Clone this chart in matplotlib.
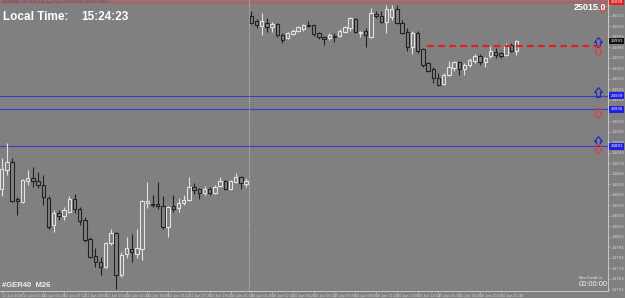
import matplotlib
matplotlib.use('Agg')
import matplotlib.pyplot as plt
from matplotlib.patches import Rectangle
from matplotlib.path import Path
import matplotlib.transforms as mtransforms

# ---------------- data ----------------
opens = [24850, 24868, 24876, 24841, 24838, 24858, 24861, 24858, 24854, 24842,
         24816, 24828, 24825, 24829, 24841, 24831, 24821, 24803, 24787, 24781,
         24776, 24799, 24809, 24769, 24789, 24793, 24789, 24793, 24837, 24836,
         24836, 24834, 24814, 24834, 24832, 24837, 24840, 24852, 24850, 24847,
         24850, 24847, 24853, 24858, 24850, 24857, 24862, 24855,
         25015, 25010, 25005, 25008, 25004, 25007, 24997, 24994, 24998, 25001,
         25002, 25006, 25006, 24999, 24995, 24994, 24996, 24996, 25000, 25003,
         25012, 24999, 25001, 24995, 25017, 25015, 25009, 25014, 25021, 25008,
         25000, 24985, 24999, 24983, 24970, 24964, 24956, 24950, 24959, 24965,
         24971, 24964, 24968, 24972, 24977, 24971, 24977, 24981, 24980, 24978,
         24987, 24982]
closes = [24869, 24876, 24839, 24839, 24859, 24861, 24858, 24854, 24843, 24814,
          24828, 24825, 24830, 24841, 24831, 24820, 24802, 24786, 24781, 24776,
          24799, 24809, 24769, 24788, 24794, 24791, 24794, 24839, 24839, 24835,
          24834, 24814, 24833, 24831, 24837, 24840, 24852, 24849, 24847, 24850,
          24847, 24852, 24858, 24850, 24858, 24862, 24856, 24858,
          25008, 25006, 25010, 25004, 25007, 24997, 24992, 24999, 25001, 25004,
          25006, 25005, 24998, 24995, 24993, 24997, 24995, 25001, 25004, 25013,
          25000, 25000, 24997, 25018, 25015, 25009, 25021, 25021, 25008, 24999,
          24985, 24999, 24982, 24968, 24963, 24956, 24949, 24959, 24966, 24971,
          24964, 24968, 24973, 24977, 24971, 24975, 24982, 24978, 24977, 24986,
          24982, 24991]
highs = [24880, 24894, 24880, 24843, 24860, 24868, 24871, 24867, 24864, 24844,
         24830, 24830, 24833, 24844, 24846, 24833, 24824, 24805, 24794, 24786,
         24800, 24812, 24810, 24791, 24805, 24808, 24812, 24840, 24857, 24845,
         24857, 24844, 24834, 24845, 24842, 24845, 24862, 24856, 24851, 24853,
         24852, 24854, 24862, 24859, 24859, 24866, 24863, 24861,
         25020, 25012, 25018, 25013, 25009, 25008, 24999, 25000, 25002, 25005,
         25007, 25010, 25007, 25000, 24996, 24999, 24999, 25002, 25005, 25014,
         25013, 25001, 25003, 25022, 25020, 25020, 25025, 25025, 25025, 25011,
         25003, 25001, 25001, 24984, 24971, 24966, 24961, 24961, 24972, 24972,
         24972, 24970, 24975, 24979, 24979, 24976, 24986, 24984, 24981, 24989,
         24989, 24992]
lows = [24844, 24864, 24838, 24826, 24837, 24854, 24852, 24851, 24835, 24812,
        24810, 24821, 24821, 24828, 24828, 24816, 24800, 24785, 24776, 24769,
        24775, 24797, 24755, 24767, 24785, 24781, 24785, 24783, 24832, 24833,
        24831, 24812, 24805, 24829, 24829, 24835, 24839, 24846, 24841, 24845,
        24845, 24846, 24852, 24849, 24849, 24856, 24850, 24852,
        25007, 25003, 24997, 25000, 25000, 24995, 24989, 24993, 24997, 25000,
        25001, 25004, 24996, 24993, 24987, 24992, 24990, 24995, 24999, 25001,
        24999, 24995, 24985, 24994, 25013, 25008, 24999, 25011, 25007, 24998,
        24982, 24979, 24980, 24966, 24962, 24951, 24948, 24949, 24958, 24963,
        24959, 24959, 24966, 24970, 24968, 24966, 24975, 24975, 24975, 24977,
        24981, 24978]

time_labels = ['11 Jun 2026', '11 Jun 03:44', '11 Jun 05:28', '11 Jun 07:12',
               '11 Jun 08:56', '11 Jun 10:40', '11 Jun 12:24', '11 Jun 14:08',
               '11 Jun 15:52', '11 Jun 17:36', '11 Jun 19:20', '11 Jun 21:04',
               '15 Jun 01:00', '15 Jun 02:44', '15 Jun 04:28', '15 Jun 06:12',
               '15 Jun 07:56', '15 Jun 09:40', '15 Jun 11:24', '15 Jun 13:08',
               '15 Jun 14:52', '15 Jun 16:36', '15 Jun 18:20', '15 Jun 20:04',
               '15 Jun 21:48']
price_ticks = [24755, 24765, 24775, 24785, 24795, 24805, 24815, 24825, 24835,
               24845, 24855, 24865, 24875, 24885, 24895, 24905, 24915, 24925,
               24935, 24945, 24955, 24965, 24975, 24985, 24995, 25005, 25015, 25025]

top_level = 25028
blue_levels = [24939, 24926, 24891]
target_level = 24986
bid = 24991
up_arrows = [24990, 24943, 24896]
down_arrows = [24982, 24923, 24888]
top_arrow = 25022

# ---------------- styling ----------------
bg = '#808080'
bull = '#e2e2e2'
bear = '#222222'
axcol = '#d4d4d4'

# hollow block arrow used by the level markers
up_verts = [(-0.2, -0.5), (0.2, -0.5), (0.2, 0.0), (0.4, 0.0), (0.0, 0.5),
            (-0.4, 0.0), (-0.2, 0.0), (-0.2, -0.5)]
up_arrow = Path(up_verts, closed=True)
down_arrow = Path([(x, -y) for x, y in up_verts], closed=True)

fig = plt.figure(figsize=(6.25, 2.98), dpi=100)
fig.patch.set_facecolor(bg)
ax = fig.add_axes([0, 7 / 298, 608 / 625, 291 / 298])
ax.set_facecolor(bg)
ax.set_xlim(-0.33, 116.6)
ax.set_ylim(24753.5, 25030)

for s in ['left', 'top']:
    ax.spines[s].set_visible(False)
for s in ['right', 'bottom']:
    ax.spines[s].set_color(axcol)
    ax.spines[s].set_linewidth(0.6)

# candles
for i in range(len(opens)):
    o, h, l, c = opens[i], highs[i], lows[i], closes[i]
    col = bull if c >= o else bear
    ax.vlines(i, l, h, color=col, lw=0.8, zorder=2)
    ax.add_patch(Rectangle((i - 0.33, min(o, c)), 0.66, max(abs(c - o), 0.4),
                           facecolor=bg, edgecolor=col, lw=0.8, zorder=3))

# levels
ax.axhline(top_level, color='#b0606c', lw=1.8, zorder=1)
for lv in blue_levels:
    ax.axhline(lv, color='#3a3ad0', lw=0.8, zorder=1)
ax.hlines(target_level, 81.8, 115, color='#e02020', lw=1.6,
          linestyles=(0, (3, 2)), zorder=4)
ax.axvline(47.6, color='#dadada', lw=0.6, ls=(0, (1, 1.5)), zorder=1)

ax.plot([114.7] * len(up_arrows), up_arrows, ls='none', marker=up_arrow,
        markersize=7, mfc='none', mec='#2626c8', mew=0.9, zorder=5)
ax.plot([114.7] * len(down_arrows), down_arrows, ls='none', marker=down_arrow,
        markersize=7, mfc='none', mec='#d04848', mew=0.9, zorder=5)
ax.plot([115.4], [top_arrow], ls='none', marker=down_arrow, markersize=7,
        mfc='none', mec='#d04848', mew=0.9, zorder=7)

# price boxes on the scale
trans = mtransforms.blended_transform_factory(ax.transAxes, ax.transData)
boxes = [(top_level, '#e02020'), (bid, '#101010')] + [(lv, '#2020e0') for lv in blue_levels]
for p, fc in boxes:
    ax.text(1.004, p, '%d' % p, transform=trans, fontsize=2.8, color='white',
            ha='left', va='center', clip_on=False, zorder=6,
            bbox=dict(boxstyle='square,pad=0.35', fc=fc, ec='none'))

# axes ticks
ax.yaxis.tick_right()
ax.set_yticks(price_ticks)
# labels hidden under a price box are left blank
box_prices = [b[0] for b in boxes]
ax.set_yticklabels(['' if min(abs(t - b) for b in box_prices) < 4 else str(t)
                    for t in price_ticks])
ax.tick_params(axis='y', colors=axcol, labelsize=3.0, length=1.5, width=0.4, pad=1)
ax.set_xticks(list(range(0, 97, 4)))
ax.set_xticklabels(time_labels)
ax.tick_params(axis='x', colors=axcol, labelsize=2.5, length=1.5, width=0.4, pad=0.5)
for lab in ax.get_xticklabels():
    lab.set_ha('left')

# texts
fam = 'Liberation Sans'
fig.text(3 / 625, 1 - 17.5 / 298, 'Local Time:', color='white', fontsize=8.5,
         weight='bold', family=fam, va='center')
fig.text(81 / 625, 1 - 17.5 / 298, '15:24:23', color='white', fontsize=8.5,
         weight='bold', family=fam, va='center')
fig.text(606 / 625, 1 - 8 / 298, '25015.0', color='white', fontsize=6.5,
         weight='bold', family=fam, va='center', ha='right', zorder=8)
fig.text(2 / 625, 1 - 285.5 / 298, '#GER40  M26', color='#f0f0f0', fontsize=5.5,
         weight='bold', family=fam, va='center')
fig.text(579 / 625, 1 - 278 / 298, 'New Candle in:', color='#eeeeee', fontsize=2.5,
         family=fam, va='center')
fig.text(579 / 625, 1 - 285 / 298, '00:00:00', color='#f4f4f4', fontsize=5.5,
         family=fam, va='center')
fig.text(2 / 625, 1 - 2 / 298, '#GER40,M26  2026.06.15 21:48  Local Time  25018.0 25025.0 24978.0 24991.0',
         color='#505050', fontsize=2.2, family=fam, va='center')

fig.savefig('out.png', dpi=100, facecolor=bg)
